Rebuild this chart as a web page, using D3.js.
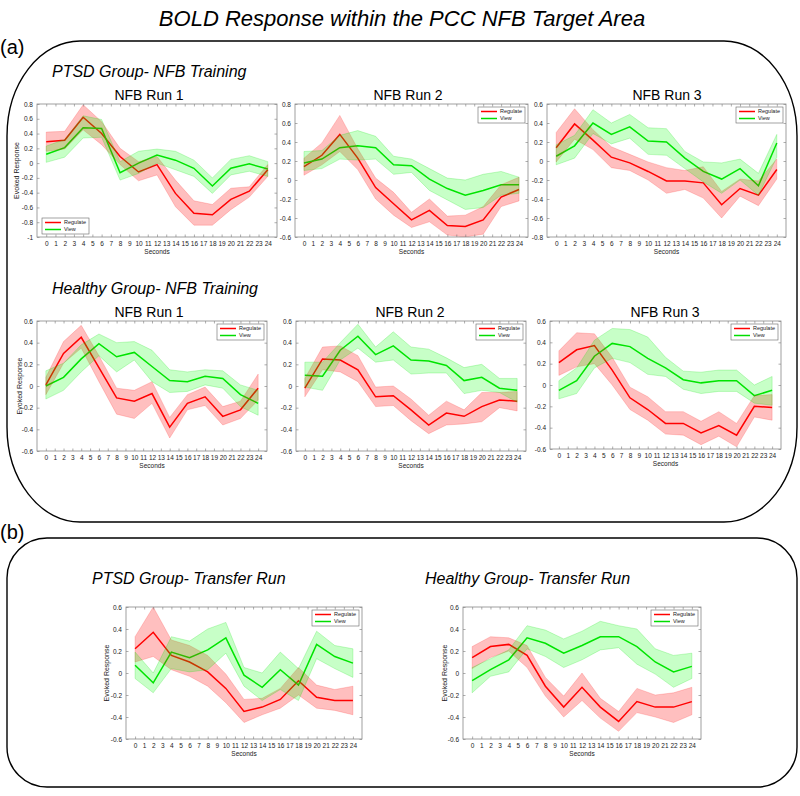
<!DOCTYPE html>
<html><head><meta charset="utf-8">
<script src="https://cdn.jsdelivr.net/npm/d3@7"></script>
<style>
body{margin:0;background:#fff}
svg{display:block}
text{font-family:"Liberation Sans",Arial,Helvetica,sans-serif}
</style>
</head><body>
<svg id="c" width="800" height="796"></svg>
<script>
// ---------- DATA ----------
const seconds = [0,2,4,6,8,10,12,14,16,18,20,22,24];
const xTickValues = d3.range(0,25);
const seriesNames = ["Regulate","View"];

// PTSD group – NFB Run 1
const ptsdRun1Reg   = [0.29,0.31,0.62,0.40,0.09,-0.12,-0.02,-0.41,-0.68,-0.70,-0.49,-0.38,-0.09];
const ptsdRun1RegHi = [0.42,0.43,0.79,0.56,0.20,0.02,0.09,-0.23,-0.51,-0.56,-0.34,-0.32,-0.02];
const ptsdRun1RegLo = [0.16,0.19,0.45,0.25,-0.02,-0.24,-0.16,-0.59,-0.84,-0.84,-0.63,-0.46,-0.18];
const ptsdRun1View   = [0.12,0.21,0.48,0.47,-0.13,0.00,0.11,0.04,-0.07,-0.31,-0.07,-0.01,-0.08];
const ptsdRun1ViewHi = [0.23,0.32,0.64,0.59,0.02,0.16,0.19,0.16,0.04,-0.20,0.05,0.10,0.02];
const ptsdRun1ViewLo = [0.01,0.08,0.34,0.35,-0.23,-0.14,0.00,-0.09,-0.18,-0.41,-0.16,-0.11,-0.18];

// PTSD group – NFB Run 2
const ptsdRun2Reg   = [0.14,0.26,0.48,0.23,-0.08,-0.25,-0.42,-0.32,-0.48,-0.49,-0.42,-0.18,-0.10];
const ptsdRun2RegHi = [0.23,0.39,0.68,0.33,0.02,-0.13,-0.34,-0.20,-0.38,-0.37,-0.28,-0.05,0.03];
const ptsdRun2RegLo = [0.05,0.16,0.30,0.11,-0.20,-0.37,-0.50,-0.44,-0.58,-0.60,-0.57,-0.28,-0.22];
const ptsdRun2View   = [0.18,0.22,0.34,0.36,0.34,0.16,0.15,0.01,-0.09,-0.16,-0.11,-0.05,-0.05];
const ptsdRun2ViewHi = [0.30,0.31,0.47,0.52,0.46,0.25,0.22,0.12,0.02,0.00,0.06,0.09,0.03];
const ptsdRun2ViewLo = [0.10,0.12,0.22,0.21,0.22,0.06,0.08,-0.11,-0.21,-0.31,-0.29,-0.16,-0.14];

// PTSD group – NFB Run 3
const ptsdRun3Reg   = [0.14,0.39,0.22,0.04,-0.02,-0.11,-0.21,-0.21,-0.23,-0.46,-0.29,-0.36,-0.09];
const ptsdRun3RegHi = [0.30,0.55,0.33,0.15,0.07,-0.01,-0.07,-0.10,-0.06,-0.32,-0.19,-0.21,0.02];
const ptsdRun3RegLo = [-0.01,0.23,0.12,-0.07,-0.10,-0.20,-0.34,-0.30,-0.39,-0.60,-0.37,-0.47,-0.19];
const ptsdRun3View   = [0.05,0.16,0.40,0.28,0.36,0.21,0.20,0.03,-0.11,-0.19,-0.08,-0.26,0.19];
const ptsdRun3ViewHi = [0.17,0.27,0.54,0.40,0.49,0.35,0.34,0.10,-0.01,-0.02,0.02,-0.13,0.28];
const ptsdRun3ViewLo = [-0.04,0.03,0.29,0.18,0.24,0.07,0.06,-0.08,-0.22,-0.34,-0.20,-0.36,0.04];

// Healthy group – NFB Run 1
const hcRun1Reg   = [0.01,0.30,0.45,0.17,-0.11,-0.14,-0.07,-0.38,-0.16,-0.10,-0.28,-0.22,-0.02];
const hcRun1RegHi = [0.08,0.41,0.56,0.28,-0.02,-0.04,0.04,-0.29,-0.08,-0.01,-0.19,-0.14,0.11];
const hcRun1RegLo = [-0.08,0.21,0.35,0.04,-0.26,-0.30,-0.16,-0.48,-0.22,-0.18,-0.36,-0.30,-0.13];
const hcRun1View   = [0.00,0.08,0.25,0.39,0.27,0.31,0.18,0.05,0.04,0.09,0.07,-0.08,-0.16];
const hcRun1ViewHi = [0.14,0.21,0.38,0.48,0.40,0.41,0.33,0.15,0.13,0.15,0.14,0.01,-0.04];
const hcRun1ViewLo = [-0.12,-0.04,0.13,0.28,0.13,0.24,0.04,-0.06,-0.05,0.01,-0.02,-0.19,-0.27];

// Healthy group – NFB Run 2
const hcRun2Reg   = [-0.02,0.25,0.24,0.15,-0.10,-0.09,-0.22,-0.36,-0.25,-0.28,-0.19,-0.13,-0.14];
const hcRun2RegHi = [0.07,0.36,0.37,0.28,-0.01,0.00,-0.12,-0.27,-0.14,-0.22,-0.06,-0.06,-0.05];
const hcRun2RegLo = [-0.10,0.15,0.13,0.04,-0.19,-0.18,-0.32,-0.44,-0.36,-0.35,-0.33,-0.20,-0.23];
const hcRun2View   = [0.10,0.09,0.33,0.46,0.29,0.37,0.24,0.23,0.19,0.05,0.08,-0.02,-0.04];
const hcRun2ViewHi = [0.22,0.22,0.40,0.57,0.36,0.50,0.36,0.34,0.26,0.17,0.20,0.07,0.07];
const hcRun2ViewLo = [-0.01,-0.04,0.24,0.35,0.22,0.24,0.11,0.12,0.12,-0.07,-0.04,-0.06,-0.15];

// Healthy group – NFB Run 3
const hcRun3Reg   = [0.21,0.33,0.37,0.14,-0.12,-0.23,-0.36,-0.36,-0.45,-0.38,-0.47,-0.20,-0.21];
const hcRun3RegHi = [0.32,0.49,0.48,0.26,-0.02,-0.11,-0.25,-0.25,-0.34,-0.25,-0.36,-0.10,-0.09];
const hcRun3RegLo = [0.09,0.17,0.20,0.00,-0.23,-0.33,-0.46,-0.47,-0.56,-0.48,-0.58,-0.30,-0.33];
const hcRun3View   = [-0.05,0.04,0.27,0.39,0.36,0.25,0.16,0.05,0.02,0.04,0.04,-0.10,-0.05];
const hcRun3ViewHi = [0.04,0.16,0.42,0.53,0.52,0.45,0.26,0.13,0.12,0.14,0.14,0.00,0.08];
const hcRun3ViewLo = [-0.13,-0.08,0.16,0.25,0.21,0.10,0.08,-0.04,-0.08,-0.06,-0.06,-0.17,-0.19];

// PTSD group – Transfer run
const ptsdTrReg   = [0.22,0.37,0.16,0.10,0.01,-0.14,-0.35,-0.31,-0.24,-0.07,-0.22,-0.25,-0.25];
const ptsdTrRegHi = [0.33,0.60,0.30,0.25,0.16,-0.01,-0.24,-0.23,-0.14,0.05,-0.11,-0.15,-0.12];
const ptsdTrRegLo = [0.10,0.15,0.03,-0.03,-0.12,-0.27,-0.45,-0.38,-0.32,-0.20,-0.32,-0.34,-0.38];
const ptsdTrView   = [0.07,-0.09,0.19,0.14,0.21,0.32,-0.02,-0.13,0.03,-0.11,0.26,0.15,0.09];
const ptsdTrViewHi = [0.19,0.00,0.33,0.29,0.40,0.46,0.05,0.00,0.19,0.04,0.38,0.25,0.22];
const ptsdTrViewLo = [-0.05,-0.18,0.04,0.01,0.03,0.18,-0.12,-0.25,-0.15,-0.25,0.13,0.04,-0.04];

// Healthy group – Transfer run
const hcTrReg   = [0.14,0.24,0.26,0.16,-0.12,-0.31,-0.13,-0.31,-0.44,-0.26,-0.31,-0.31,-0.26];
const hcTrRegHi = [0.24,0.33,0.32,0.25,-0.04,-0.21,0.00,-0.23,-0.35,-0.14,-0.20,-0.18,-0.13];
const hcTrRegLo = [0.04,0.14,0.20,0.05,-0.21,-0.40,-0.25,-0.41,-0.53,-0.36,-0.40,-0.45,-0.38];
const hcTrView   = [-0.07,0.03,0.12,0.32,0.27,0.18,0.25,0.33,0.33,0.24,0.10,0.01,0.06];
const hcTrViewHi = [0.05,0.13,0.21,0.43,0.39,0.31,0.38,0.47,0.43,0.40,0.22,0.16,0.18];
const hcTrViewLo = [-0.18,-0.03,0.01,0.22,0.15,0.05,0.12,0.21,0.23,0.08,-0.01,-0.13,-0.05];

// y-axis tick sets
const yTicksA = [-1,-0.8,-0.6,-0.4,-0.2,0,0.2,0.4,0.6,0.8];
const yTicksB = [-0.6,-0.4,-0.2,0,0.2,0.4,0.6,0.8];
const yTicksC = [-0.8,-0.6,-0.4,-0.2,0,0.2,0.4,0.6];
const yTicksD = [-0.6,-0.4,-0.2,0,0.2,0.4,0.6];

// ---------- LAYOUT ----------
const panels = [
  {title:"NFB Run 1", tx:149, ty:100, L:37, R:277, T:104, B:237, ticks:yTicksA, ylab:17, leg:"ll",
   reg:ptsdRun1Reg, regHi:ptsdRun1RegHi, regLo:ptsdRun1RegLo, view:ptsdRun1View, viewHi:ptsdRun1ViewHi, viewLo:ptsdRun1ViewLo},
  {title:"NFB Run 2", tx:408, ty:100, L:295, R:528, T:104, B:237, ticks:yTicksB, ylab:null, leg:"ur",
   reg:ptsdRun2Reg, regHi:ptsdRun2RegHi, regLo:ptsdRun2RegLo, view:ptsdRun2View, viewHi:ptsdRun2ViewHi, viewLo:ptsdRun2ViewLo},
  {title:"NFB Run 3", tx:667, ty:100, L:547, R:786, T:104, B:237, ticks:yTicksC, ylab:null, leg:"ur",
   reg:ptsdRun3Reg, regHi:ptsdRun3RegHi, regLo:ptsdRun3RegLo, view:ptsdRun3View, viewHi:ptsdRun3ViewHi, viewLo:ptsdRun3ViewLo},
  {title:"NFB Run 1", tx:149, ty:317, L:37, R:267, T:321, B:451, ticks:yTicksD, ylab:20, leg:"ur",
   reg:hcRun1Reg, regHi:hcRun1RegHi, regLo:hcRun1RegLo, view:hcRun1View, viewHi:hcRun1ViewHi, viewLo:hcRun1ViewLo},
  {title:"NFB Run 2", tx:410, ty:317, L:296, R:526, T:321, B:451, ticks:yTicksD, ylab:null, leg:"ur",
   reg:hcRun2Reg, regHi:hcRun2RegHi, regLo:hcRun2RegLo, view:hcRun2View, viewHi:hcRun2ViewHi, viewLo:hcRun2ViewLo},
  {title:"NFB Run 3", tx:665, ty:317, L:550, R:781, T:321, B:449, ticks:yTicksD, ylab:null, leg:"ur",
   reg:hcRun3Reg, regHi:hcRun3RegHi, regLo:hcRun3RegLo, view:hcRun3View, viewHi:hcRun3ViewHi, viewLo:hcRun3ViewLo},
  {title:null, L:126, R:362, T:607, B:739, ticks:yTicksD, ylab:107, leg:"ur",
   reg:ptsdTrReg, regHi:ptsdTrRegHi, regLo:ptsdTrRegLo, view:ptsdTrView, viewHi:ptsdTrViewHi, viewLo:ptsdTrViewLo},
  {title:null, L:463, R:701, T:607, B:739, ticks:yTicksD, ylab:445, leg:"ur",
   reg:hcTrReg, regHi:hcTrRegHi, regLo:hcTrRegLo, view:hcTrView, viewHi:hcTrViewHi, viewLo:hcTrViewLo}
];

const RED = "#ff0000", GREEN = "#00dd00";
const svg = d3.select("#c");

function roundedBox(x0,y0,x1,y1,rx,ry){
  return `M${x0+rx},${y0}H${x1-rx}A${rx},${ry} 0 0 1 ${x1},${y0+ry}V${y1-ry}A${rx},${ry} 0 0 1 ${x1-rx},${y1}`+
         `H${x0+rx}A${rx},${ry} 0 0 1 ${x0},${y1-ry}V${y0+ry}A${rx},${ry} 0 0 1 ${x0+rx},${y0}Z`;
}

// Frames
svg.append("path").attr("d", roundedBox(7,41,797,522,73,95)).attr("fill","none").attr("stroke","#000").attr("stroke-width",1.4);
svg.append("path").attr("d", roundedBox(7,538,797,787,40,40)).attr("fill","none").attr("stroke","#000").attr("stroke-width",1.4);

// Text headings
svg.append("text").attr("x",402).attr("y",26).attr("text-anchor","middle").attr("font-size",22).attr("font-style","italic")
  .text("BOLD Response within the PCC NFB Target Area");
svg.append("text").attr("x",0).attr("y",54).attr("font-size",20).text("(a)");
svg.append("text").attr("x",0).attr("y",539).attr("font-size",20).text("(b)");
const groupLabels = [
  {t:"PTSD Group- NFB Training", x:52, y:77},
  {t:"Healthy Group- NFB Training", x:52, y:294},
  {t:"PTSD Group- Transfer Run", x:92, y:584},
  {t:"Healthy Group- Transfer Run", x:425, y:584}
];
groupLabels.forEach(g=>{
  svg.append("text").attr("x",g.x).attr("y",g.y).attr("font-size",16).attr("font-style","italic").text(g.t);
});

const fmtY = d => String(+d.toFixed(1));

panels.forEach((p,i)=>{
  const g = svg.append("g");
  const x = d3.scaleLinear().domain([-1,25]).range([p.L,p.R]);
  const y = d3.scaleLinear().domain([p.ticks[0], p.ticks[p.ticks.length-1]]).range([p.B,p.T]);

  g.append("clipPath").attr("id","clip"+i).append("rect")
    .attr("x",p.L).attr("y",p.T).attr("width",p.R-p.L).attr("height",p.B-p.T);
  const plot = g.append("g").attr("clip-path",`url(#clip${i})`);

  const line = d3.line().x((d,j)=>x(seconds[j])).y(d=>y(d));
  const area = (hi,lo)=> d3.area().x((d,j)=>x(seconds[j])).y0((d,j)=>y(lo[j])).y1((d,j)=>y(hi[j]))(hi);

  // mean lines (drawn under translucent bands)
  plot.append("path").attr("d",line(p.reg)).attr("fill","none").attr("stroke",RED).attr("stroke-width",1.5);
  plot.append("path").attr("d",line(p.view)).attr("fill","none").attr("stroke",GREEN).attr("stroke-width",1.5);
  // bands
  plot.append("path").attr("d",area(p.regHi,p.regLo)).attr("fill",RED).attr("fill-opacity",0.25)
    .attr("stroke",RED).attr("stroke-opacity",0.25).attr("stroke-width",0.7);
  plot.append("path").attr("d",area(p.viewHi,p.viewLo)).attr("fill","#00ff00").attr("fill-opacity",0.22)
    .attr("stroke",GREEN).attr("stroke-opacity",0.3).attr("stroke-width",0.7);

  // axes (MATLAB-style inward ticks, box)
  const styleAxis = sel => {
    sel.select(".domain").remove();
    sel.selectAll("line").attr("stroke","#777").attr("stroke-width",0.6);
    sel.selectAll("text").attr("fill","#222").attr("font-size",6.5).attr("font-family","'DejaVu Sans',sans-serif");
  };
  g.append("g").attr("transform",`translate(0,${p.B})`)
    .call(d3.axisBottom(x).tickValues(xTickValues).tickSize(-2.5).tickPadding(4).tickFormat(d3.format("d"))).call(styleAxis);
  g.append("g").attr("transform",`translate(0,${p.T})`)
    .call(d3.axisTop(x).tickValues(xTickValues).tickSize(-2.5).tickFormat("")).call(styleAxis);
  g.append("g").attr("transform",`translate(${p.L},0)`)
    .call(d3.axisLeft(y).tickValues(p.ticks).tickSize(-2.5).tickPadding(4).tickFormat(fmtY)).call(styleAxis);
  g.append("g").attr("transform",`translate(${p.R},0)`)
    .call(d3.axisRight(y).tickValues(p.ticks).tickSize(-2.5).tickFormat("")).call(styleAxis);
  g.append("rect").attr("x",p.L).attr("y",p.T).attr("width",p.R-p.L).attr("height",p.B-p.T)
    .attr("fill","none").attr("stroke","#888").attr("stroke-width",0.8);

  // axis labels
  g.append("text").attr("x",(p.L+p.R)/2).attr("y",p.B+17).attr("text-anchor","middle")
    .attr("font-size",6.5).attr("fill","#222").attr("font-family","'DejaVu Sans',sans-serif").text("Seconds");
  if (p.ylab!==null){
    g.append("text").attr("transform",`translate(${p.ylab},${(p.T+p.B)/2}) rotate(-90)`).attr("text-anchor","middle")
      .attr("dy","0.35em").attr("font-size",7).attr("fill","#222").attr("font-family","'DejaVu Sans',sans-serif").text("Evoked Response");
  }
  if (p.title){
    svg.append("text").attr("x",p.tx).attr("y",p.ty).attr("text-anchor","middle").attr("font-size",14).text(p.title);
  }

  // legend
  const lw = 47, lh = 16;
  const lx = p.leg==="ur" ? p.R-lw-3 : p.L+5;
  const ly = p.leg==="ur" ? p.T+3 : p.B-lh-3;
  const lg = g.append("g").attr("transform",`translate(${lx},${ly})`);
  lg.append("rect").attr("width",lw).attr("height",lh).attr("fill","#fff").attr("stroke","#666").attr("stroke-width",0.6);
  seriesNames.forEach((s,k)=>{
    const yy = 4.5 + k*7;
    lg.append("line").attr("x1",3).attr("x2",19).attr("y1",yy).attr("y2",yy)
      .attr("stroke",k===0?RED:GREEN).attr("stroke-width",1.5);
    lg.append("text").attr("x",22).attr("y",yy).attr("dy","0.35em").attr("font-size",5.5).attr("fill","#222")
      .attr("font-family","'DejaVu Serif',serif").text(s);
  });
});
</script>
</body></html>
